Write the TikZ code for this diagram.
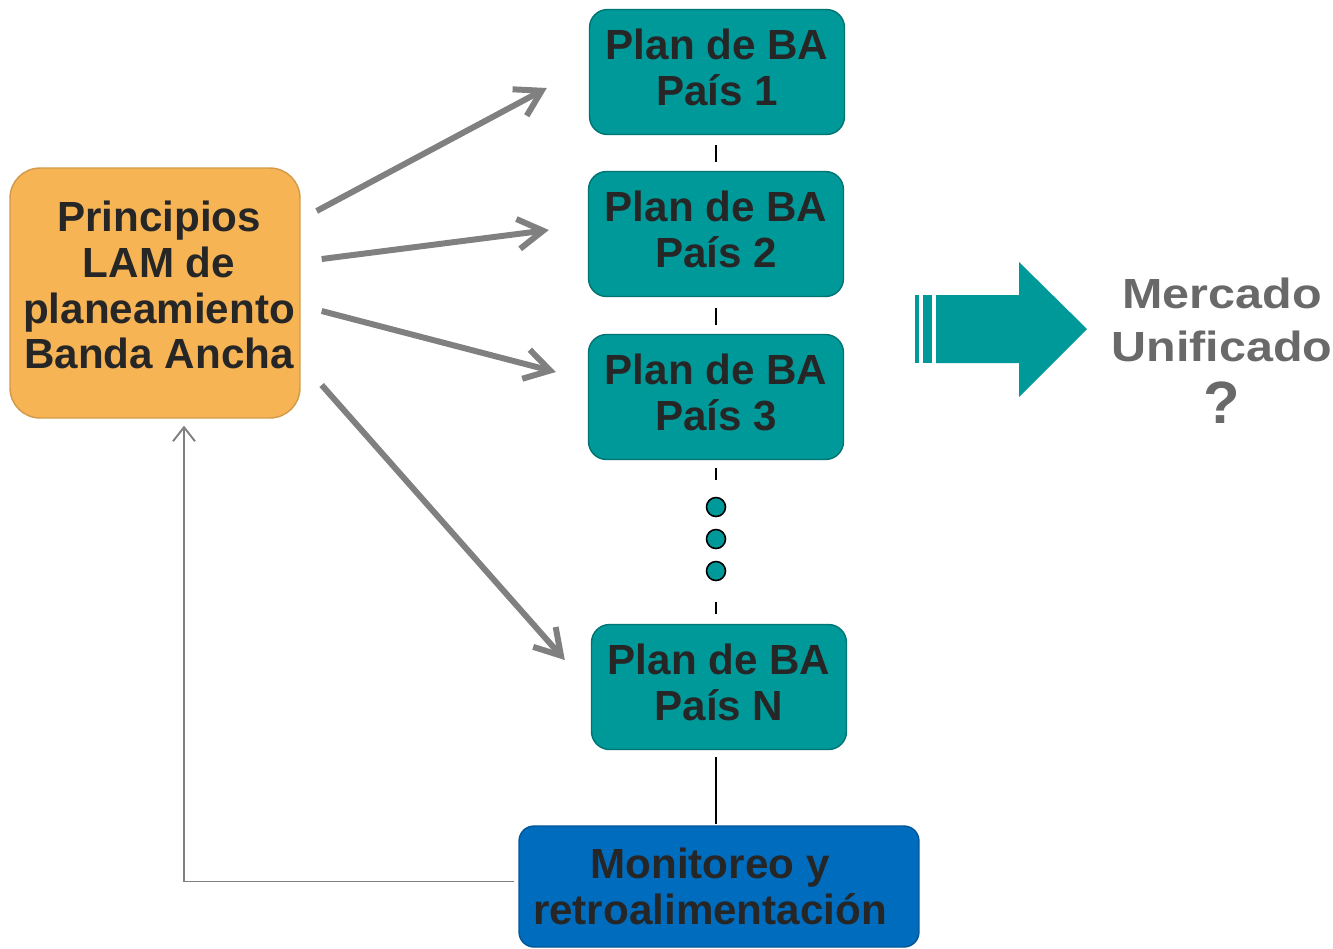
\documentclass[tikz,border=0pt]{standalone}
\usepackage{fontspec}
\setmainfont{Liberation Sans}
\usetikzlibrary{arrows.meta,positioning}
\definecolor{lamorange}{HTML}{F6B455}
\definecolor{planteal}{HTML}{009999}
\definecolor{monblue}{HTML}{006CBE}
\definecolor{arrowgray}{HTML}{808080}
\definecolor{boxtext}{HTML}{262626}
\definecolor{mercgray}{HTML}{696969}

\begin{document}
\begin{tikzpicture}[x=0.02cm, y=-0.02cm,
    box/.style={rectangle, text=boxtext, align=center, font=\fontsize{24}{26}\selectfont\bfseries, inner sep=0pt},
    plan/.style={box, fill=planteal, draw=planteal!75!black, line width=0.8pt, rounded corners=0.36cm, minimum width=5.1cm, minimum height=2.5cm, text depth=0.2cm},
    dot/.style={circle, draw, fill=planteal, line width=0.9pt, minimum size=0.38cm, inner sep=0pt},
    arrow/.style={-{Straight Barb[length=5mm,width=6mm]}, draw=arrowgray, line width=3.4pt},
    feed/.style={-{Straight Barb[length=2.8mm,width=4.4mm]}, draw=arrowgray, line width=1.1pt},
    tick/.style={draw=black, line width=1pt}
]
\useasboundingbox (0,0) rectangle (1333,948);

% Principios
\node[box, fill=lamorange, draw=lamorange!85!black, line width=0.8pt, rounded corners=0.6cm, minimum width=5.8cm, minimum height=5cm, text depth=0.32cm] (lam) at (155,293) {\hspace*{0.16cm}Principios\\\hspace*{0.16cm}LAM de\\\hspace*{0.16cm}planeamiento\\\hspace*{0.16cm}Banda Ancha};

% Planes por pais
\node[plan] (p1) at (717,72) {Plan de BA\\País 1};
\node[plan] (p2) at (716,234) {Plan de BA\\País 2};
\node[plan] (p3) at (716,397) {Plan de BA\\País 3};
\node[plan] (pN) at (719,687) {Plan de BA\\País N};
\foreach \i/\y in {1/507,2/539,3/571} {
    \node[dot] (d\i) at (716,\y) {};
}

% Monitoreo
\node[box, fill=monblue, draw=monblue!80!black, line width=0.8pt, rounded corners=0.3cm, minimum width=8cm, minimum height=2.42cm] (mon) at (719,886.5) {Monitoreo y\hspace*{0.36cm}\\retroalimentación\hspace*{0.36cm}};

% Ticks
\draw[tick, shorten <=0.2cm, shorten >=0.18cm] (p1.south -| d1) -- (p2.north -| d1);
\draw[tick, shorten <=0.22cm, shorten >=0.18cm] (p2.south -| d1) -- (p3.north -| d1);
\draw[tick, shorten <=0.16cm, shorten >=0.34cm] (p3.south -| d1) -- (d1.north);
\draw[tick, shorten <=0.42cm, shorten >=0.2cm] (d3.south) -- (pN.north -| d3);
\draw[tick, shorten <=0.14cm, shorten >=0.02cm] (pN.south -| d3) -- (mon.north -| d3);

% Arrows
\foreach \t/\sx/\sy/\ex/\ey in {p1/16/-82/-42/16, p2/21/-34/-39/-4, p3/21/18/-32/-25, pN/21/92/-26/-27} {
    \draw[arrow] ([shift={(\sx,\sy)}]lam.east) -- ([shift={(\ex,\ey)}]\t.west);
}
\draw[feed] ([shift={(-4,-5)}]mon.west) -| ([shift={(29,7)}]lam.south);

% Big arrow
\fill[planteal] (936,295) -- (1019,295) -- (1019,262) -- (1087,329) -- (1019,397) -- (1019,363) -- (936,363) -- cycle;
\fill[planteal] (915,295) rectangle (919,363);
\fill[planteal] (923,295) rectangle (932,363);

% Mercado
\node[align=center, text=mercgray, font=\fontsize{24}{30}\selectfont\bfseries] (merc) at (1222,320) {\scalebox{1.15}[1]{Mercado}\\\scalebox{1.15}[1]{Unificado}};
\node[text=mercgray, font=\fontsize{34}{36}\selectfont\bfseries, below=0.15cm of merc] (q) {?};

\end{tikzpicture}
\end{document}
